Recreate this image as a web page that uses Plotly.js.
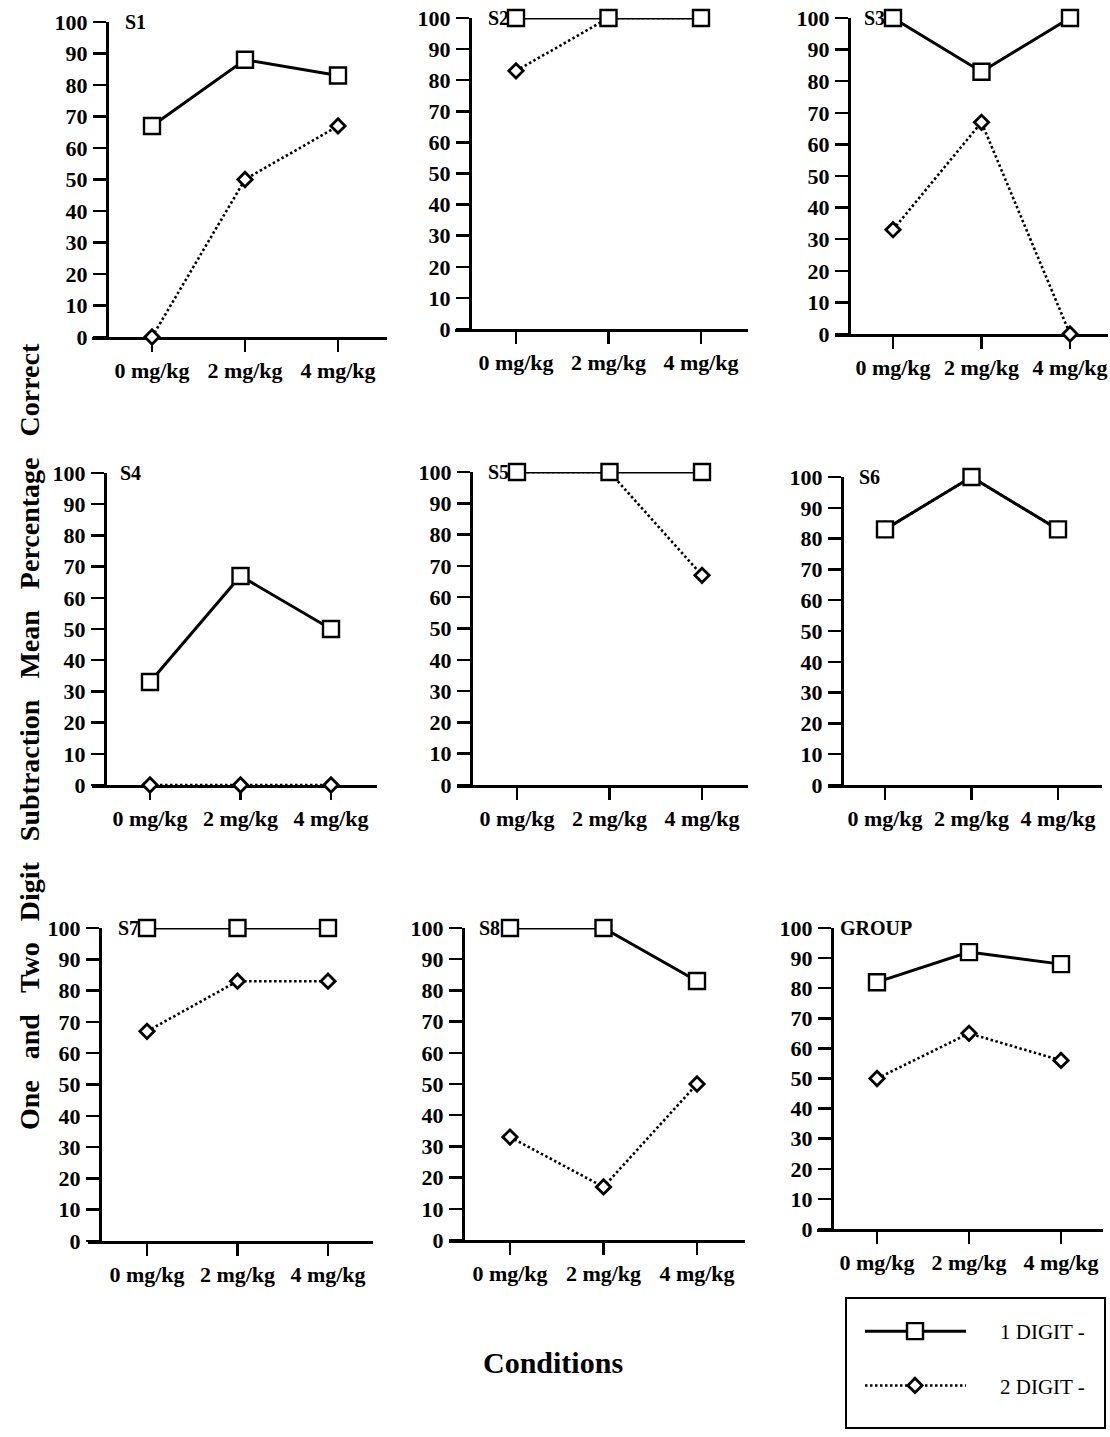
<!DOCTYPE html>
<html>
<head>
<meta charset="utf-8">
<script src="https://cdn.plot.ly/plotly-3.0.1.min.js"></script>
<style>
html,body{margin:0;padding:0;background:#fff;}
#chart{width:1110px;height:1437px;}
</style>
</head>
<body>
<div id="chart"></div>
<script>
// ---------- DATA ----------
const conditions = ['0 mg/kg', '2 mg/kg', '4 mg/kg'];
const panelNames = ['S1', 'S2', 'S3', 'S4', 'S5', 'S6', 'S7', 'S8', 'GROUP'];
const yTickVals = [0, 10, 20, 30, 40, 50, 60, 70, 80, 90, 100];
const seriesNames = ['1 DIGIT -', '2 DIGIT -'];

const s1OneDigit = [67, 88, 83];
const s1TwoDigit = [0, 50, 67];
const s2OneDigit = [100, 100, 100];
const s2TwoDigit = [83, 100, 100];
const s3OneDigit = [100, 83, 100];
const s3TwoDigit = [33, 67, 0];
const s4OneDigit = [33, 67, 50];
const s4TwoDigit = [0, 0, 0];
const s5OneDigit = [100, 100, 100];
const s5TwoDigit = [100, 100, 67];
const s6OneDigit = [83, 100, 83];
const s6TwoDigit = [83, 100, 83];
const s7OneDigit = [100, 100, 100];
const s7TwoDigit = [67, 83, 83];
const s8OneDigit = [100, 100, 83];
const s8TwoDigit = [33, 17, 50];
const groupOneDigit = [82, 92, 88];
const groupTwoDigit = [50, 65, 56];

const oneDigitSeries = [s1OneDigit, s2OneDigit, s3OneDigit, s4OneDigit, s5OneDigit, s6OneDigit, s7OneDigit, s8OneDigit, groupOneDigit];
const twoDigitSeries = [s1TwoDigit, s2TwoDigit, s3TwoDigit, s4TwoDigit, s5TwoDigit, s6TwoDigit, s7TwoDigit, s8TwoDigit, groupTwoDigit];

// ---------- LAYOUT GEOMETRY (pixels) ----------
const W = 1110, H = 1437;
const px = x => x / W;
const py = y => 1 - y / H;
// xl/xr: x-axis line ends, ya: y-axis line x, yt/yb: y=100 / y=0, c0/c2: first/last category, lab: panel label offset
const boxes = [
  {xl: 92,  xr: 387,  ya: 107, yt: 22,  yb: 337,  c0: 152, c2: 338,  lab: 16},
  {xl: 455, xr: 748,  ya: 470, yt: 18,  yb: 329,  c0: 516, c2: 701,  lab: 16},
  {xl: 835, xr: 1108, ya: 849, yt: 18,  yb: 334,  c0: 893, c2: 1070, lab: 13},
  {xl: 92,  xr: 377,  ya: 105, yt: 473, yb: 785,  c0: 150, c2: 331,  lab: 13},
  {xl: 457, xr: 748,  ya: 471, yt: 472, yb: 785,  c0: 517, c2: 702,  lab: 15},
  {xl: 828, xr: 1102, ya: 842, yt: 477, yb: 785,  c0: 885, c2: 1058, lab: 15},
  {xl: 88,  xr: 373,  ya: 100, yt: 928, yb: 1241, c0: 147, c2: 328,  lab: 16},
  {xl: 449, xr: 745,  ya: 463, yt: 928, yb: 1240, c0: 510, c2: 697,  lab: 14},
  {xl: 817, xr: 1103, ya: 832, yt: 928, yb: 1229, c0: 877, c2: 1061, lab: 6}
];

const serif = 'Liberation Serif, Times New Roman, serif';
const tickFont = {family: serif, size: 22, weight: 'bold', color: '#000'};

const traces = [];
const layout = {
  width: W, height: H,
  margin: {l: 0, r: 0, t: 0, b: 0},
  paper_bgcolor: '#fff',
  plot_bgcolor: 'rgba(0,0,0,0)',
  font: {family: serif, color: '#000'},
  showlegend: true,
  legend: {
    x: px(848), y: py(1311), xanchor: 'left', yanchor: 'top',
    bgcolor: 'rgba(0,0,0,0)', borderwidth: 0,
    font: {family: serif, size: 21, color: '#000'},
    itemwidth: 142, tracegroupgap: 24, traceorder: 'grouped'
  },
  annotations: [],
  shapes: []
};

boxes.forEach((b, i) => {
  const n = i + 1;
  const sfx = n === 1 ? '' : String(n);
  const unit = (b.c2 - b.c0) / 2;
  layout['xaxis' + sfx] = {
    domain: [px(b.xl), px(b.xr)],
    anchor: 'y' + sfx,
    type: 'category',
    categoryorder: 'array', categoryarray: conditions,
    range: [-(b.c0 - b.xl) / unit, 2 + (b.xr - b.c2) / unit],
    showline: true, linecolor: '#000', linewidth: 3,
    ticks: 'outside', ticklen: 12, tickwidth: 2.5, tickcolor: '#000',
    showgrid: false, zeroline: false, fixedrange: true,
    tickfont: tickFont, ticklabelstandoff: 0,
    layer: 'below traces'
  };
  layout['yaxis' + sfx] = {
    domain: [py(b.yb), py(b.yt)],
    anchor: 'free', position: px(b.ya),
    range: [0, 100], tickmode: 'array', tickvals: yTickVals,
    showline: true, linecolor: '#000', linewidth: 3,
    ticks: 'outside', ticklen: 13, tickwidth: 2.5, tickcolor: '#000',
    showgrid: false, zeroline: false, fixedrange: true,
    tickfont: tickFont, ticklabelstandoff: 1,
    layer: 'below traces'
  };
  traces.push({
    x: conditions, y: twoDigitSeries[i],
    xaxis: 'x' + sfx, yaxis: 'y' + sfx,
    type: 'scatter', mode: 'lines+markers', cliponaxis: false,
    name: seriesNames[1], legendgroup: 'two', legendrank: 2, showlegend: i === 0,
    line: {color: '#000', width: 2.6, dash: '2.5px,2.5px'},
    marker: {symbol: 'diamond', size: 11, color: '#fff', line: {color: '#000', width: 2.8}}
  });
  traces.push({
    x: conditions, y: oneDigitSeries[i],
    xaxis: 'x' + sfx, yaxis: 'y' + sfx,
    type: 'scatter', mode: 'lines+markers', cliponaxis: false,
    name: seriesNames[0], legendgroup: 'one', legendrank: 1, showlegend: i === 0,
    line: {color: '#000', width: 3},
    marker: {symbol: 'square', size: 16, color: '#fff', line: {color: '#000', width: 2.4}}
  });
  layout.annotations.push({
    xref: 'paper', yref: 'paper', x: px(b.ya + b.lab), y: py(b.yt),
    xanchor: 'left', yanchor: 'middle', showarrow: false,
    text: panelNames[i], font: {family: serif, size: 20, weight: 'bold', color: '#000'}
  });
});

const gap = '\u00A0\u00A0\u00A0';
layout.annotations.push({
  xref: 'paper', yref: 'paper', x: px(29), y: py(737),
  xanchor: 'center', yanchor: 'middle', showarrow: false, textangle: -90,
  text: ['One', 'and', 'Two', 'Digit', 'Subtraction', 'Mean', 'Percentage', 'Correct'].join(gap),
  font: {family: serif, size: 28, weight: 'bold', color: '#000'}
});
layout.annotations.push({
  xref: 'paper', yref: 'paper', x: px(553), y: py(1362),
  xanchor: 'center', yanchor: 'middle', showarrow: false,
  text: 'Conditions',
  font: {family: serif, size: 30, weight: 'bold', color: '#000'}
});
layout.shapes.push({
  type: 'rect', xref: 'paper', yref: 'paper',
  x0: px(846), x1: px(1105), y0: py(1428), y1: py(1298),
  line: {color: '#000', width: 2}, fillcolor: 'rgba(0,0,0,0)'
});

Plotly.newPlot('chart', traces, layout, {staticPlot: true, displayModeBar: false}).then(gd => {
  // lengthen the legend line samples to match the original key
  gd.querySelectorAll('.legend .traces').forEach(tr => {
    const ln = tr.querySelector('.legendlines path');
    if (ln) ln.setAttribute('d', 'M17,0h101');
    tr.querySelectorAll('.legendsymbols path.scatterpts').forEach(p => p.setAttribute('transform', 'translate(67,0)'));
  });
});
</script>
</body>
</html>
